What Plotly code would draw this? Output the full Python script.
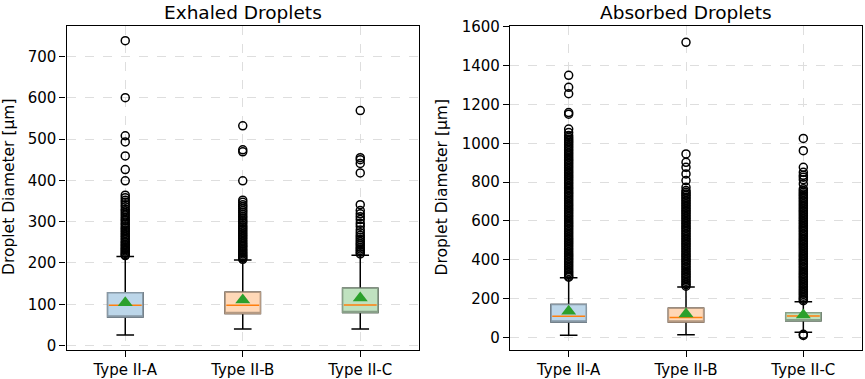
import plotly.graph_objects as go

W, H = 865, 379

categories = ["Type II-A", "Type II-B", "Type II-C"]
positions = [1, 2, 3]

# ---- Exhaled droplets (left panel) ----
ex_q1 = [69.5, 77.5, 80]
ex_median = [98, 98, 98.5]
ex_q3 = [128, 129, 139]
ex_lowcap = [26, 40, 40]
ex_highcap = [215.5, 207, 219]
ex_mean = [104, 110.5, 115]
ex_out_A = [738, 600, 508, 493, 459, 426, 399, 364, 358, 352, 347, 341, 336, 330,
            326, 321, 316, 311, 306, 302, 297, 293, 288, 284, 280, 276, 272, 268,
            264, 260, 256, 252, 249, 245, 242, 238, 235, 232, 229, 226, 223, 220, 218]
ex_out_B = [532, 474, 469, 399, 352, 347, 341, 337, 332, 327, 323, 318, 313, 309,
            304, 300, 296, 291, 287, 283, 279, 275, 271, 267, 263, 259, 255, 251,
            247, 243, 240, 236, 232, 229, 225, 222, 218, 215, 212, 209]
ex_out_C = [569, 455, 450, 441, 418, 341, 327, 319, 312, 305, 296, 289, 280, 273,
            267, 262, 257, 252, 247, 243, 238, 234, 230, 226, 222]

# ---- Absorbed droplets (right panel) ----
ab_q1 = [79, 79, 86]
ab_median = [109, 102, 110]
ab_q3 = [170, 150, 127]
ab_lowcap = [11, 13, 27]
ab_highcap = [307, 259, 184]
ab_mean = [134, 120, 115]
ab_out_A = [1350, 1288, 1255, 1158, 1150, 1073, 1055, 1040, 1030, 1021, 1012, 1004,
            995, 986, 978, 969, 961, 952, 944, 935, 927, 918, 910, 901, 893, 884,
            876, 867, 859, 850, 842, 833, 825, 816, 808, 799, 791, 782, 774, 765,
            757, 748, 740, 731, 723, 714, 706, 697, 689, 680, 672, 663, 655, 646,
            638, 629, 621, 612, 604, 595, 587, 578, 570, 561, 553, 544, 536, 527,
            519, 510, 502, 493, 485, 476, 468, 459, 451, 442, 434, 425, 417, 408,
            400, 391, 383, 374, 366, 357, 349, 340, 332, 323, 315, 310]
ab_out_B = [1520, 945, 902, 876, 842, 808, 773, 756, 748, 739, 731, 722, 714, 705,
            697, 688, 680, 671, 663, 654, 646, 637, 629, 620, 612, 603, 595, 586,
            578, 569, 561, 552, 544, 535, 527, 518, 510, 501, 493, 484, 476, 467,
            459, 450, 442, 433, 425, 416, 408, 399, 391, 382, 374, 365, 357, 348,
            340, 331, 323, 314, 306, 297, 289, 280, 272, 264]
ab_out_C = [1025, 962, 876, 850, 835, 825, 812, 790, 765, 756, 748, 739, 731, 722,
            714, 705, 697, 688, 680, 671, 663, 654, 646, 637, 629, 620, 612, 603,
            595, 586, 578, 569, 561, 552, 544, 535, 527, 518, 510, 501, 493, 484,
            476, 467, 459, 450, 442, 433, 425, 416, 408, 399, 391, 382, 374, 365,
            357, 348, 340, 331, 323, 314, 306, 297, 289, 280, 272, 263, 255, 246,
            238, 229, 221, 212, 204, 196, 189, 16, 10]

fills = ["rgb(188,214,233)", "rgb(255,216,183)", "rgb(192,226,192)"]
edges = ["rgb(135,152,165)", "rgb(180,153,130)", "rgb(136,160,136)"]
BOX_W = 0.3

fig = go.Figure()


def add_panel(xa, ya, q1, med, q3, lo, hi, mean, outs):
    for i, p in enumerate(positions):
        # whiskers + caps (black)
        fig.add_trace(go.Box(
            x=[p], q1=[q1[i]], median=[q3[i]], q3=[q3[i]],
            lowerfence=[lo[i]], upperfence=[hi[i]],
            width=BOX_W, whiskerwidth=0.5, fillcolor="rgba(0,0,0,0)",
            line=dict(color="black", width=1.5), xaxis=xa, yaxis=ya,
            showlegend=False, hoverinfo="skip"))
        # coloured box
        fig.add_trace(go.Box(
            x=[p], q1=[q1[i]], median=[q1[i]], q3=[q3[i]],
            lowerfence=[q1[i]], upperfence=[q3[i]],
            width=BOX_W, whiskerwidth=0, fillcolor=fills[i],
            line=dict(color=edges[i], width=1.5), xaxis=xa, yaxis=ya,
            showlegend=False, hoverinfo="skip"))
    for i, p in enumerate(positions):
        fig.add_trace(go.Scatter(
            x=[p - BOX_W / 2 + 0.01, p + BOX_W / 2 - 0.01], y=[med[i], med[i]],
            mode="lines", line=dict(color="#ff7f0e", width=1.5),
            xaxis=xa, yaxis=ya, showlegend=False, hoverinfo="skip"))
        fig.add_trace(go.Scatter(
            x=[p] * len(outs[i]), y=outs[i], mode="markers",
            marker=dict(symbol="circle-open", size=8, color="black",
                        line=dict(width=1.5, color="black")),
            xaxis=xa, yaxis=ya, showlegend=False, hoverinfo="skip"))
        fig.add_trace(go.Scatter(
            x=[p], y=[mean[i]], mode="markers",
            marker=dict(symbol="triangle-up", size=13, color="#2ca02c"),
            xaxis=xa, yaxis=ya, showlegend=False, hoverinfo="skip"))


add_panel("x", "y", ex_q1, ex_median, ex_q3, ex_lowcap, ex_highcap, ex_mean,
          [ex_out_A, ex_out_B, ex_out_C])
add_panel("x2", "y2", ab_q1, ab_median, ab_q3, ab_lowcap, ab_highcap, ab_mean,
          [ab_out_A, ab_out_B, ab_out_C])

FONT = "DejaVu Sans"
ydom = [(H - 350) / H, (H - 26) / H]
axis_common = dict(showline=True, linecolor="black", linewidth=1.2, mirror=True,
                   ticks="outside", ticklen=6, tickwidth=1.2, tickcolor="black",
                   showgrid=True, gridcolor="#dedede", griddash="dash", gridwidth=0.8,
                   zeroline=False, automargin=False,
                   tickfont=dict(family=FONT, size=15, color="black"))

fig.update_layout(
    width=W, height=H, margin=dict(l=0, r=0, t=0, b=0, autoexpand=False),
    paper_bgcolor="white", plot_bgcolor="white", boxmode="overlay",
    font=dict(family=FONT, color="black"),
    xaxis=dict(domain=[66.5 / W, 419 / W], range=[0.5, 3.5], tickvals=positions,
               ticktext=categories, anchor="y", **axis_common),
    yaxis=dict(domain=ydom, range=[-10.6, 773.6], tickvals=list(range(0, 800, 100)),
               anchor="x", **axis_common),
    xaxis2=dict(domain=[510 / W, 862 / W], range=[0.5, 3.5], tickvals=positions,
                ticktext=categories, anchor="y2", **axis_common),
    yaxis2=dict(domain=ydom, range=[-65, 1604], tickvals=list(range(0, 1800, 200)),
                anchor="x2", **axis_common),
)

ann = [
    dict(text="Exhaled Droplets", x=(66.5 + 419) / 2 / W, y=1 - 12 / H, size=18.5, angle=0),
    dict(text="Absorbed Droplets", x=(510 + 862) / 2 / W, y=1 - 12 / H, size=18.5, angle=0),
    dict(text="Droplet Diameter [µm]", x=9.5 / W, y=1 - 187.5 / H, size=15.5, angle=-90),
    dict(text="Droplet Diameter [µm]", x=442 / W, y=1 - 187.5 / H, size=15.5, angle=-90),
]
for a in ann:
    fig.add_annotation(text=a["text"], x=a["x"], y=a["y"], xref="paper", yref="paper",
                       xanchor="center", yanchor="middle", showarrow=False,
                       textangle=a["angle"], font=dict(family=FONT, size=a["size"], color="black"))

fig.write_html("out.html", config={"displayModeBar": False},
               post_script="document.body.style.margin='0';document.body.style.overflow='hidden';")
